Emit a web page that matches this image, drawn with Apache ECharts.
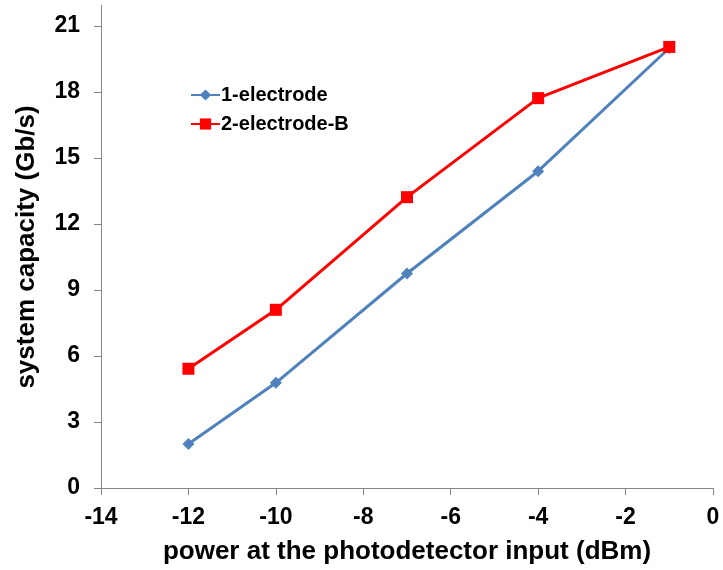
<!DOCTYPE html>
<html><head><meta charset="utf-8">
<script src="https://cdn.jsdelivr.net/npm/echarts@6/dist/echarts.min.js"></script>
<style>html,body{margin:0;padding:0;background:#fff}#c{width:723px;height:570px}</style>
</head><body><div id="c"></div>
<script>
const xValues = [-12, -10, -7, -4, -1];
const oneElectrode = [2.0, 4.78, 9.75, 14.4, 20.0];
const twoElectrodeB = [5.42, 8.1, 13.22, 17.72, 20.05];
const seriesNames = ['1-electrode', '2-electrode-B'];
const xTitle = 'power at the photodetector input (dBm)';
const yTitle = 'system capacity (Gb/s)';

const font = 'Liberation Sans, Arial, sans-serif';
const chart = echarts.init(document.getElementById('c'));
chart.setOption({
  animation: false,
  backgroundColor: '#fff',
  grid: {left: 101, right: 10, top: 26, bottom: 82, containLabel: false},
  legend: {
    orient: 'vertical', left: 185, top: 80, itemGap: 9, itemWidth: 29, itemHeight: 14,
    textStyle: {fontFamily: font, fontWeight: 'bold', fontSize: 20, color: '#000', padding: [0, 0, 0, -4]},
    data: seriesNames
  },
  xAxis: {
    type: 'value', min: -14, max: 0, interval: 2,
    name: xTitle, nameLocation: 'middle', nameGap: 51,
    nameTextStyle: {fontFamily: font, fontWeight: 'bold', fontSize: 26, color: '#000'},
    axisLine: {onZero: false, lineStyle: {color: '#868686', width: 1}},
    axisTick: {show: true, inside: false, length: 7, lineStyle: {color: '#868686'}},
    axisLabel: {fontFamily: font, fontWeight: 'bold', fontSize: 23, color: '#000', margin: 18},
    splitLine: {show: false}
  },
  yAxis: {
    type: 'value', min: 0, max: 21, interval: 3,
    name: yTitle, nameLocation: 'middle', nameGap: 61, nameRotate: 90,
    nameTextStyle: {fontFamily: font, fontWeight: 'bold', fontSize: 26, color: '#000', padding: [0, 0, 0, 20]},
    axisLine: {show: true, onZero: false, lineStyle: {color: '#868686', width: 1}},
    axisTick: {show: true, inside: false, length: 7, lineStyle: {color: '#868686'}},
    axisLabel: {fontFamily: font, fontWeight: 'bold', fontSize: 23, color: '#000', margin: 21},
    splitLine: {show: false}
  },
  graphic: [{type: 'line', shape: {x1: 101.5, y1: 5, x2: 101.5, y2: 26}, style: {stroke: '#868686', lineWidth: 1}}],
  series: [
    {
      name: seriesNames[0], type: 'line',
      data: xValues.map((x, i) => [x, oneElectrode[i]]),
      symbol: 'diamond', symbolSize: 12,
      lineStyle: {color: '#4F81BD', width: 3},
      itemStyle: {color: '#4F81BD'}
    },
    {
      name: seriesNames[1], type: 'line',
      data: xValues.map((x, i) => [x, twoElectrodeB[i]]),
      symbol: 'rect', symbolSize: 12,
      lineStyle: {color: '#FF0000', width: 3},
      itemStyle: {color: '#FF0000'}
    }
  ]
});
</script></body></html>
